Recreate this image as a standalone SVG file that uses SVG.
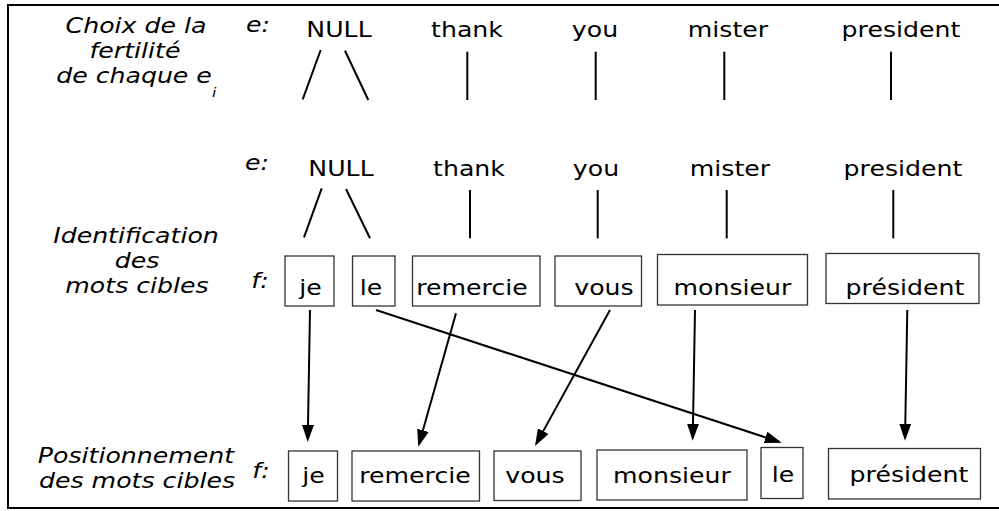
<svg xmlns="http://www.w3.org/2000/svg" width="999" height="511" viewBox="0 0 999 511">
<style>
text{font-family:"DejaVu Sans","Noto Sans",sans-serif;font-size:21px;fill:#000;text-anchor:middle}
.it{font-style:italic}
.box{fill:#fff;stroke:#333;stroke-width:1.3}
.ln{stroke:#000;stroke-width:2;fill:none}
.arr{stroke:#000;stroke-width:2;fill:none;marker-end:url(#ah)}
</style>
<defs>
<marker id="ah" viewBox="0 0 17 12" refX="14" refY="6" markerWidth="17" markerHeight="12" markerUnits="userSpaceOnUse" orient="auto">
<path d="M0,0 L17,6 L0,12 z" fill="#000"/>
</marker>
</defs>
<rect x="0" y="0" width="999" height="511" fill="#fff"/>
<rect x="8" y="5" width="1000" height="503" fill="none" stroke="#000" stroke-width="2"/>

<g id="labels">
<text class="it" transform="translate(136,33) scale(1.2,1)">Choix de la</text>
<text class="it" transform="translate(135,58) scale(1.2,1)">fertilité</text>
<text class="it" transform="translate(134,83) scale(1.2,1)">de chaque e</text>
<text class="it" style="font-size:13px;text-anchor:start" transform="translate(212,97) scale(1.2,1)">i</text>
<text class="it" transform="translate(136,243) scale(1.2,1)">Identification</text>
<text class="it" transform="translate(137,268) scale(1.2,1)">des</text>
<text class="it" transform="translate(137,293) scale(1.2,1)">mots cibles</text>
<text class="it" transform="translate(136,463) scale(1.2,1)">Positionnement</text>
<text class="it" transform="translate(137,488) scale(1.2,1)">des mots cibles</text>
<text class="it" transform="translate(258,32) scale(1.2,1)">e:</text>
<text class="it" transform="translate(257,170) scale(1.2,1)">e:</text>
<text class="it" transform="translate(260,288) scale(1.2,1)">f:</text>
<text class="it" transform="translate(261,478) scale(1.2,1)">f:</text>
</g>

<g id="e-row1">
<text transform="translate(339,37) scale(1.2,1)">NULL</text>
<text transform="translate(467,37) scale(1.2,1)">thank</text>
<text transform="translate(595,37) scale(1.2,1)">you</text>
<text transform="translate(728,37) scale(1.2,1)">mister</text>
<text transform="translate(901,37) scale(1.2,1)">president</text>
</g>
<g id="e-row2">
<text transform="translate(341,176) scale(1.2,1)">NULL</text>
<text transform="translate(469,176) scale(1.2,1)">thank</text>
<text transform="translate(596,176) scale(1.2,1)">you</text>
<text transform="translate(730,176) scale(1.2,1)">mister</text>
<text transform="translate(903,176) scale(1.2,1)">president</text>
</g>

<g id="f-top">
<g id="f1-je"><rect class="box" x="285" y="256" width="49" height="50"/><text transform="translate(310.5,295) scale(1.2,1)">je</text></g>
<g id="f1-le"><rect class="box" x="352.5" y="256" width="42.5" height="50"/><text transform="translate(371,295) scale(1.2,1)">le</text></g>
<g id="f1-remercie"><rect class="box" x="412.5" y="256" width="127.5" height="50"/><text transform="translate(472,295) scale(1.2,1)">remercie</text></g>
<g id="f1-vous"><rect class="box" x="555" y="256" width="86.5" height="50"/><text transform="translate(604,295) scale(1.2,1)">vous</text></g>
<g id="f1-monsieur"><rect class="box" x="657.5" y="254.5" width="150" height="50.5"/><text transform="translate(732.5,295) scale(1.2,1)">monsieur</text></g>
<g id="f1-president"><rect class="box" x="826" y="253.5" width="153" height="50"/><text transform="translate(905,295) scale(1.2,1)">président</text></g>
</g>

<g id="f-bottom">
<g id="f2-je"><rect class="box" x="288.5" y="451" width="49" height="50"/><text transform="translate(313.5,483) scale(1.2,1)">je</text></g>
<g id="f2-remercie"><rect class="box" x="352" y="451" width="127.5" height="50"/><text transform="translate(415,483) scale(1.2,1)">remercie</text></g>
<g id="f2-vous"><rect class="box" x="494" y="451" width="87" height="49.5"/><text transform="translate(535,483) scale(1.2,1)">vous</text></g>
<g id="f2-monsieur"><rect class="box" x="597" y="450" width="150" height="50"/><text transform="translate(672,483) scale(1.2,1)">monsieur</text></g>
<g id="f2-le"><rect class="box" x="761" y="447.5" width="42" height="51"/><text transform="translate(783,482) scale(1.2,1)">le</text></g>
<g id="f2-president"><rect class="box" x="828.5" y="448.5" width="152" height="50.5"/><text transform="translate(909,482) scale(1.2,1)">président</text></g>
</g>

<g id="connectors">
<line class="ln" x1="320.7" y1="50" x2="302.7" y2="99.3"/>
<line class="ln" x1="345" y1="50.7" x2="368.3" y2="100"/>
<line class="ln" x1="467.3" y1="51.7" x2="467.3" y2="100"/>
<line class="ln" x1="595.7" y1="51.7" x2="595.7" y2="100"/>
<line class="ln" x1="724.3" y1="51.7" x2="724.3" y2="100"/>
<line class="ln" x1="891" y1="51.7" x2="891" y2="100"/>

<line class="ln" x1="321.7" y1="188.3" x2="304" y2="237.3"/>
<line class="ln" x1="346" y1="189" x2="370" y2="238.3"/>
<line class="ln" x1="470" y1="190" x2="470" y2="238.3"/>
<line class="ln" x1="597.7" y1="190" x2="597.7" y2="238.3"/>
<line class="ln" x1="726.7" y1="190" x2="726.7" y2="238.3"/>
<line class="ln" x1="893.3" y1="190" x2="893.3" y2="238.3"/>

<line class="arr" x1="310" y1="310" x2="307.75" y2="439"/>
<line class="arr" x1="376" y1="310" x2="778.85" y2="441.77"/>
<line class="arr" x1="456" y1="313.3" x2="419.12" y2="443.81"/>
<line class="arr" x1="610" y1="310" x2="536.46" y2="443.38"/>
<line class="arr" x1="695" y1="310" x2="692.75" y2="437.7"/>
<line class="arr" x1="907.3" y1="310" x2="905.05" y2="437.7"/>
</g>
</svg>
